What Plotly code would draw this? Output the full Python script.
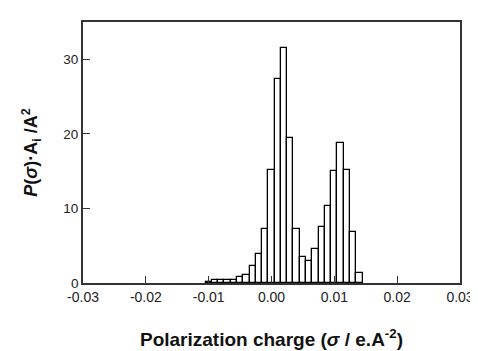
import plotly.graph_objects as go

# bin centres (σ, e.Å^-2) and heights P(σ)·A_i
sigma = [-0.010, -0.009, -0.008, -0.007, -0.006, -0.005, -0.004, -0.003, -0.002, -0.001,
         0.000, 0.001, 0.002, 0.003, 0.004, 0.005, 0.006, 0.007, 0.008, 0.009,
         0.010, 0.011, 0.012, 0.013, 0.014]
p_area = [0.2, 0.45, 0.45, 0.4, 0.47, 0.78, 1.12, 2.24, 3.9, 7.2,
          15.2, 27.4, 31.5, 19.5, 7.2, 3.5, 2.9, 4.5, 7.5, 10.3,
          15.0, 18.75, 15.2, 6.85, 1.4]

x_ticks = [-0.03, -0.02, -0.01, 0.00, 0.01, 0.02, 0.03]
x_tick_labels = ["-0.03", "-0.02", "-0.01", "0.00", "0.01", "0.02", "0.03"]
y_ticks = [0, 10, 20, 30]

fig = go.Figure(go.Bar(
    x=sigma, y=p_area, width=0.001,
    marker=dict(color="white", line=dict(color="black", width=1.3)),
))

axis_common = dict(showline=True, linecolor="#333", linewidth=1.8, mirror=True,
                   ticks="inside", ticklen=7, tickwidth=1.2, tickcolor="#333",
                   showgrid=False, zeroline=False)

fig.update_xaxes(range=[-0.03, 0.03], tickvals=x_ticks, ticktext=x_tick_labels,
                 tickfont=dict(family="Liberation Sans, Arial", size=14, color="#222"),
                 title=dict(text="<b>Polarization charge (<i>σ</i> / e.A<sup>-2</sup>)</b>",
                            font=dict(family="Liberation Sans, Arial", size=19, color="#111"),
                            standoff=29),
                 **axis_common)
fig.update_yaxes(range=[0, 35], tickvals=y_ticks,
                 tickfont=dict(family="Liberation Sans, Arial", size=13.5, color="#222"),
                 title=dict(text="<b><i>P</i>(<i>σ</i>)·A<sub>i</sub> /A<sup>2</sup></b>",
                            font=dict(family="Liberation Sans, Arial", size=18, color="#111"),
                            standoff=21),
                 **axis_common)

fig.update_layout(width=478, height=351, margin=dict(l=75, r=17, t=13, b=68),
                  plot_bgcolor="white", paper_bgcolor="white", showlegend=False,
                  bargap=0)

fig.write_html("out.html")
